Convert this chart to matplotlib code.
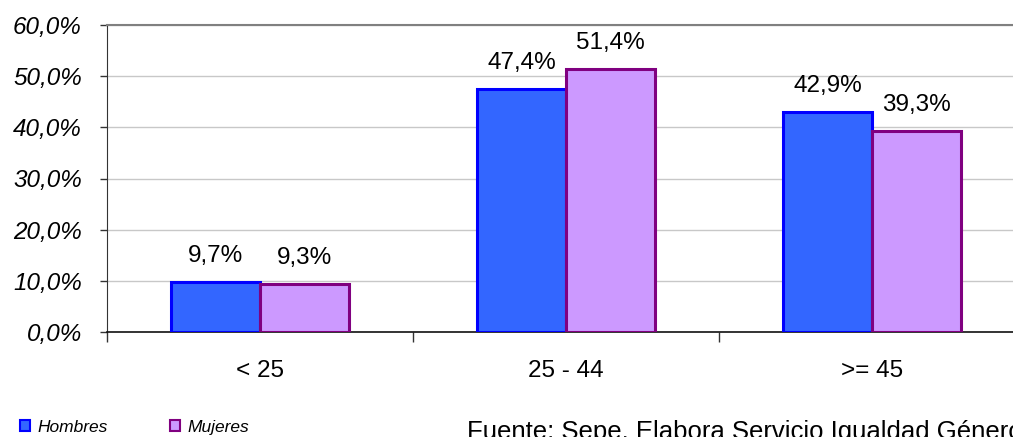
import matplotlib
matplotlib.use('Agg')
import matplotlib.pyplot as plt
from matplotlib.patches import Patch
import numpy as np

# Datos
categorias = ['< 25', '25 - 44', '>= 45']
hombres = [9.7, 47.4, 42.9]
mujeres = [9.3, 51.4, 39.3]
etiquetas_y = ['0,0%', '10,0%', '20,0%', '30,0%', '40,0%', '50,0%', '60,0%']

plt.rcParams['font.family'] = ['Liberation Sans', 'DejaVu Sans']

W, H = 1013, 437
fig = plt.figure(figsize=(W / 100, H / 100), dpi=100)
ax = fig.add_axes([107 / W, 1 - 332 / H, 918 / W, 307 / H])

x = np.arange(len(categorias))
ancho = 0.29
b1 = ax.bar(x - ancho / 2, hombres, ancho, color='#3366FF', edgecolor='#0000FF',
            linewidth=2.2, zorder=3)
b2 = ax.bar(x + ancho / 2, mujeres, ancho, color='#CC99FF', edgecolor='#800080',
            linewidth=2.2, zorder=3)

for barras, vals in ((b1, hombres), (b2, mujeres)):
    for b, v in zip(barras, vals):
        ax.annotate(f'{v:.1f}%'.replace('.', ','),
                    (b.get_x() + b.get_width() / 2, v),
                    xytext=(0, 11), textcoords='offset points',
                    ha='center', va='bottom', fontsize=17.5)

ax.set_xlim(-0.5, 2.5)
ax.set_ylim(0, 60)
ax.set_yticks(np.arange(0, 61, 10))
ax.set_yticklabels(etiquetas_y, fontsize=17.5, style='italic')
ax.tick_params(axis='y', length=5, width=1, pad=13, color='#333333')

ax.set_xticks(x)
ax.set_xticklabels(categorias, fontsize=17.5)
ax.set_xticks([-0.5, 0.5, 1.5, 2.5], minor=True)
ax.tick_params(axis='x', which='major', length=0, pad=20)
ax.tick_params(axis='x', which='minor', length=7, width=1, color='#333333')

ax.grid(axis='y', color='#C8C8C8', linewidth=1, zorder=0)
ax.spines['right'].set_visible(False)
ax.spines['top'].set_color('#808080')
ax.spines['top'].set_linewidth(1.5)
ax.spines['left'].set_color('#333333')
ax.spines['bottom'].set_color('#111111')
ax.spines['bottom'].set_linewidth(1.2)

handles = [Patch(facecolor='#3366FF', edgecolor='#0000FF', linewidth=1.5),
           Patch(facecolor='#CC99FF', edgecolor='#800080', linewidth=1.5)]
fig.legend(handles, ['Hombres', 'Mujeres'], loc='upper left', ncol=2,
           bbox_to_anchor=(4 / W, 1 - 404 / H), frameon=False,
           prop={'style': 'italic', 'size': 12.5}, handlelength=0.6,
           handleheight=0.6, handletextpad=0.4, columnspacing=3.6)

fig.text(467 / W, 1 - 420 / H, 'Fuente: Sepe. Elabora Servicio Igualdad Género',
         fontsize=18.5, ha='left', va='top')

fig.savefig('out.png', dpi=100)
